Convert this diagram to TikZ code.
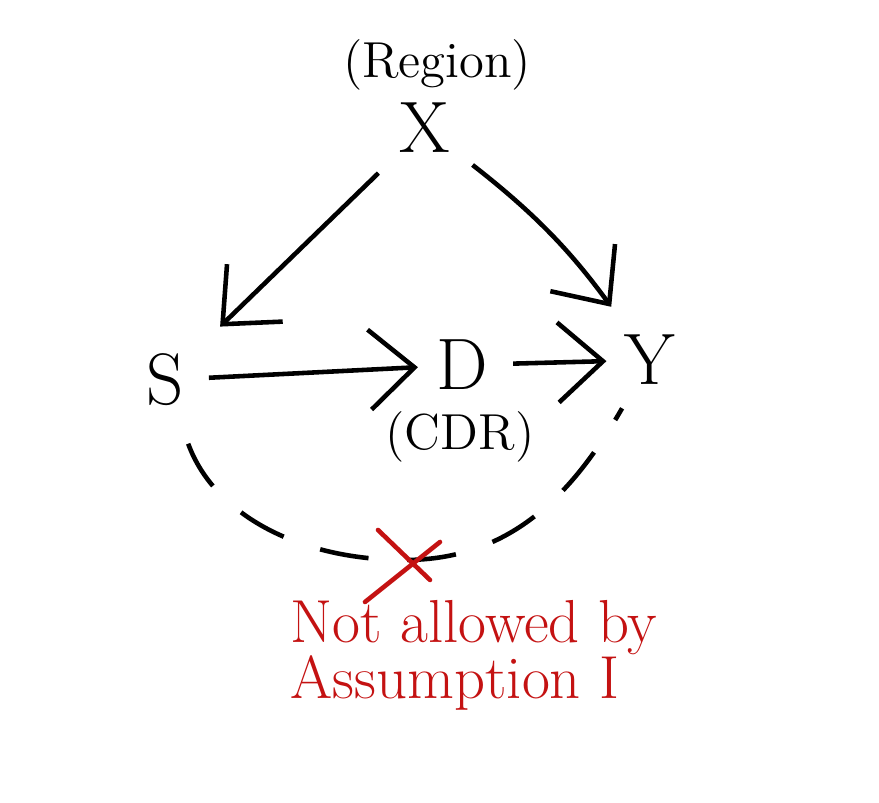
\documentclass[tikz,border=0pt]{standalone}
\usepackage{tikz}
\usetikzlibrary{positioning,calc}
\usetikzlibrary{arrows.meta}
\definecolor{NoteRed}{RGB}{196,18,18}
\tikzset{
	var/.style={font=\huge,inner sep=3pt},
	tag/.style={font=\Large,inner sep=1pt},
	arr/.style={draw=black,line width=1.3pt,-{Straight Barb[length=4.5mm,width=8mm]},shorten >=2pt,shorten <=4pt},
	bad/.style={draw=black,line width=1.3pt,dash pattern=on 14pt off 11pt,shorten <=8pt,shorten >=4pt},
	cross/.style={draw=NoteRed,line width=1.3pt,line cap=round},
	note/.style={text=NoteRed,font=\LARGE,align=left,inner sep=0pt},
}

\begin{document}
\begin{tikzpicture}
				\useasboundingbox (0,0) rectangle (8.79,8.03);
				\node[var] (x) at (4.25,6.75) {X};
				\node[var] (s) at (1.65,4.23) {S};
				\node[var] (d) at (4.62,4.38) {D};
				\node[var] (y) at (6.5,4.43) {Y};
				\node[tag] (region) at (4.37,7.38) {(Region)};
				\node[tag] (cdr) at (4.6,3.66) {(CDR)};
				\coordinate (mid) at (4.05,2.43);
				\foreach \a/\b in {s/d,d/y}
				\draw[arr] (\a)--(\b);
				\draw[arr,shorten >=10pt] (x) -- (s);
				\draw[arr,shorten >=6pt] (x) to[bend left=8] (y);
				% dashed link, crossed out
				\draw[bad] (s) to[out=-70,in=180] (mid) to[out=0,in=-120] (y);
				\draw[cross] ($(mid)+(-0.27,0.3)$) -- ($(mid)+(0.25,-0.2)$);
				\draw[cross] ($(mid)+(0.35,0.18)$) -- ($(mid)+(-0.4,-0.42)$);
				\node[note,anchor=west] (warn) at (2.9,1.48) {Not allowed by\\[-6pt]Assumption I};
			\end{tikzpicture}
\end{document}
